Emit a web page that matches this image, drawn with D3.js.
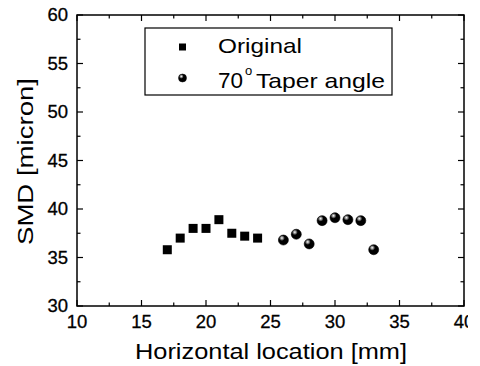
<!DOCTYPE html>
<html>
<head>
<meta charset="utf-8">
<script src="https://cdn.jsdelivr.net/npm/d3@7"></script>
<style>
  body { margin: 0; background: #fff; }
  text { font-family: "Liberation Sans", Arial, sans-serif; fill: #000; }
</style>
</head>
<body>
<svg id="chart" width="480" height="366"></svg>
<script>
"use strict";

// SMD vs horizontal location: original nozzle vs 70° taper angle
const originalX = [17, 18, 19, 20, 21, 22, 23, 24];
const originalY = [35.8, 37.0, 38.0, 38.0, 38.9, 37.5, 37.2, 37.0];
const taperX = [26, 27, 28, 29, 30, 31, 32, 33];
const taperY = [36.8, 37.4, 36.4, 38.8, 39.1, 38.9, 38.8, 35.8];
const xTicks = [10, 15, 20, 25, 30, 35, 40];
const yTicks = [30, 35, 40, 45, 50, 55, 60];

const svg = d3.select("#chart");
const M = {left: 77, top: 15};
const H = 366;
const width = 464 - M.left, height = 306 - M.top;

// picture is cropped on the right in the original
svg.append("clipPath").attr("id", "crop").append("rect")
  .attr("x", 0).attr("y", 0).attr("width", 468).attr("height", H);
const root = svg.append("g").attr("clip-path", "url(#crop)");

// sphere shading for the circle markers
const grad = svg.append("defs").append("radialGradient").attr("id", "ball")
  .attr("cx", "35%").attr("cy", "30%").attr("r", "65%");
grad.append("stop").attr("offset", "0%").attr("stop-color", "#fff");
grad.append("stop").attr("offset", "22%").attr("stop-color", "#888");
grad.append("stop").attr("offset", "45%").attr("stop-color", "#000");
grad.append("stop").attr("offset", "100%").attr("stop-color", "#000");

const g = root.append("g").attr("transform", `translate(${M.left},${M.top})`);

const x = d3.scaleLinear().domain([10, 40]).range([0, width]);
const y = d3.scaleLinear().domain([30, 60]).range([height, 0]);

// ---- frame
g.append("rect").attr("width", width).attr("height", height)
  .attr("fill", "none").attr("stroke", "#000").attr("stroke-width", 1.5);

// ---- ticks (inward, mirrored on all four sides, minor every half step)
const xMinor = d3.range(12.5, 40, 5);
const yMinor = d3.range(32.5, 60, 5);
const tk = g.append("g").attr("stroke", "#000").attr("stroke-width", 1.2);
xTicks.concat(xMinor).forEach(v => {
  const len = xTicks.includes(v) ? 6 : 3.5;
  tk.append("line").attr("x1", x(v)).attr("x2", x(v)).attr("y1", height).attr("y2", height - len);
  tk.append("line").attr("x1", x(v)).attr("x2", x(v)).attr("y1", 0).attr("y2", len);
});
yTicks.concat(yMinor).forEach(v => {
  const len = yTicks.includes(v) ? 6 : 3.5;
  tk.append("line").attr("y1", y(v)).attr("y2", y(v)).attr("x1", 0).attr("x2", len);
  tk.append("line").attr("y1", y(v)).attr("y2", y(v)).attr("x1", width).attr("x2", width - len);
});

// ---- tick labels
g.selectAll(".xl").data(xTicks).enter().append("text")
  .attr("x", d => x(d)).attr("y", height + 22)
  .attr("text-anchor", "middle").style("font-size", "18.5px")
  .attr("stroke", "#000").attr("stroke-width", 0.3).text(d => d);
g.selectAll(".yl").data(yTicks).enter().append("text")
  .attr("x", -9).attr("y", d => y(d) + 6)
  .attr("text-anchor", "end").style("font-size", "18.5px")
  .attr("stroke", "#000").attr("stroke-width", 0.3).text(d => d);

// ---- axis titles (the scan's type is a little wider than Liberation Sans)
root.append("text").attr("x", 135).attr("y", 359)
  .attr("textLength", 272).attr("lengthAdjust", "spacingAndGlyphs")
  .style("font-size", "22px").text("Horizontal location [mm]");
root.append("text").attr("transform", "rotate(-90)").attr("x", -245).attr("y", 33)
  .attr("textLength", 167).attr("lengthAdjust", "spacingAndGlyphs")
  .style("font-size", "22px").text("SMD [micron]");

// ---- points
const orig = originalX.map((v, i) => ({x: v, y: originalY[i]}));
const taper = taperX.map((v, i) => ({x: v, y: taperY[i]}));

g.selectAll(".sq").data(orig).enter().append("rect")
  .attr("x", d => x(d.x) - 4.5).attr("y", d => y(d.y) - 4.5)
  .attr("width", 9).attr("height", 9).attr("fill", "#000");

g.selectAll(".ball").data(taper).enter().append("circle")
  .attr("cx", d => x(d.x)).attr("cy", d => y(d.y)).attr("r", 5)
  .attr("fill", "url(#ball)").attr("stroke", "#000").attr("stroke-width", 0.6);

// ---- legend
const lg = root.append("g").attr("transform", "translate(145,28)");
lg.append("rect").attr("width", 247).attr("height", 67)
  .attr("fill", "#fff").attr("stroke", "#000").attr("stroke-width", 1.2);
lg.append("rect").attr("x", 34).attr("y", 15.5).attr("width", 7).attr("height", 7).attr("fill", "#000");
lg.append("text").attr("x", 73).attr("y", 25)
  .attr("textLength", 84).attr("lengthAdjust", "spacingAndGlyphs")
  .style("font-size", "21px").text("Original");
lg.append("circle").attr("cx", 37.5).attr("cy", 50).attr("r", 4)
  .attr("fill", "url(#ball)").attr("stroke", "#000").attr("stroke-width", 0.5);
lg.append("text").attr("x", 73).attr("y", 60)
  .attr("textLength", 25).attr("lengthAdjust", "spacingAndGlyphs")
  .style("font-size", "22px").text("70");
lg.append("text").attr("x", 100).attr("y", 47).style("font-size", "13px").text("o");
lg.append("text").attr("x", 111).attr("y", 60)
  .attr("textLength", 129).attr("lengthAdjust", "spacingAndGlyphs")
  .style("font-size", "21px").text("Taper angle");
</script>
</body>
</html>
